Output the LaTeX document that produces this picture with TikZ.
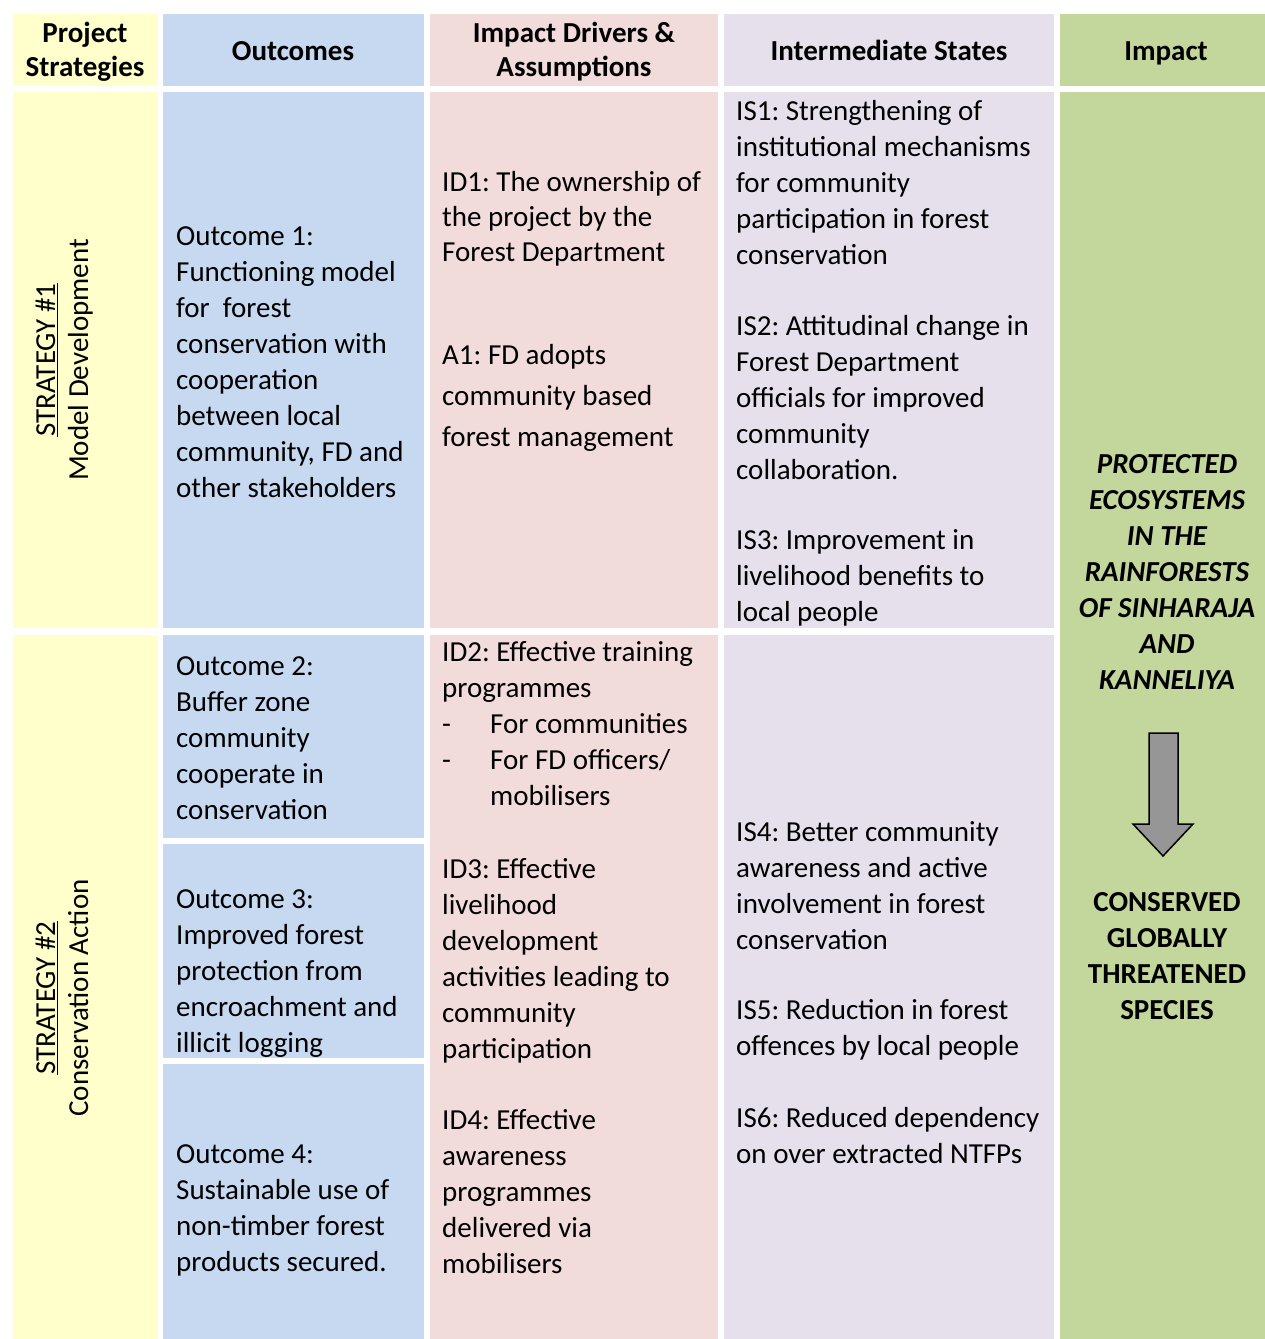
\documentclass[tikz,border=0pt]{standalone}
\usepackage{fontspec}
\setmainfont{Carlito}
\frenchspacing
\definecolor{cyel}{HTML}{FFFFCC}
\definecolor{cblu}{HTML}{C6D9F1}
\definecolor{cpnk}{HTML}{F2DCDB}
\definecolor{clav}{HTML}{E5E0EC}
\definecolor{cgrn}{HTML}{C3D69B}
\definecolor{carr}{HTML}{969696}
\newcommand\fl{\rule{0pt}{22pt}}
\newcommand\dsh{\makebox[48pt][l]{-}}
\begin{document}
\begin{tikzpicture}[x=1pt,y=-1pt,
  body/.style={anchor=north west,inner sep=0pt,align=left,font=\fontsize{29}{36}\selectfont},
  hdr/.style={anchor=north,inner sep=0pt,align=center,font=\bfseries\fontsize{29}{34}\selectfont},
  strat/.style={anchor=north,inner sep=0pt,align=center,rotate=90,font=\fontsize{29}{33}\selectfont},
  imp/.style={anchor=north,inner sep=0pt,align=center,font=\bfseries\fontsize{29}{36}\selectfont}]
\fill[white] (0,0) rectangle (1265,1339);
\useasboundingbox (0,0) rectangle (1265,1339);
% header row
\fill[cyel] (13,14) rectangle (158,86);
\fill[cblu] (163,14) rectangle (424,86);
\fill[cpnk] (430,14) rectangle (718,86);
\fill[clav] (724,14) rectangle (1054,86);
\fill[cgrn] (1060,14) rectangle (1265,86);
% column 1
\fill[cyel] (13,92) rectangle (158,628);
\fill[cyel] (13,635) rectangle (158,1339);
% column 2
\fill[cblu] (163,92) rectangle (424,628);
\fill[cblu] (163,635) rectangle (424,838);
\fill[cblu] (163,844) rectangle (424,1058);
\fill[cblu] (163,1064) rectangle (424,1339);
% column 3
\fill[cpnk] (430,92) rectangle (718,628);
\fill[cpnk] (430,635) rectangle (718,1339);
% column 4
\fill[clav] (724,92) rectangle (1054,628);
\fill[clav] (724,635) rectangle (1054,1339);
% column 5
\fill[cgrn] (1060,92) rectangle (1265,1339);

% headers
\node[hdr] (h1) at (85,20) {\fl Project\\Strategies};
\node[hdr] (h2) at (293,38) {\fl Outcomes};
\node[hdr] (h3) at (574,20) {\fl Impact Drivers \&\\Assumptions};
\node[hdr] (h4) at (889,38) {\fl Intermediate States};
\node[hdr] (h5) at (1166,38) {\fl Impact};

% strategies
\node[strat] (s1) at (33,360) {\fl\underline{STRATEGY \#1}\\Model Development};
\node[strat] (s2) at (33,998) {\fl\underline{STRATEGY \#2}\\Conservation Action};

% outcomes
\node[body] (o1) at (176,223) {\fl Outcome 1:\\Functioning model\\for\ \ forest\\conservation with\\cooperation\\between local\\community, FD and\\other stakeholders};
\node[body] (o2) at (176,653) {\fl Outcome 2:\\Buffer zone\\community\\cooperate in\\conservation};
\node[body] (o3) at (176,886) {\fl Outcome 3:\\Improved forest\\protection from\\encroachment and\\illicit logging};
\node[body] (o4) at (176,1141) {\fl Outcome 4:\\Sustainable use of\\non-timber forest\\products secured.};

% impact drivers
\node[body,font=\fontsize{29}{35}\selectfont] (id1) at (442,169) {\fl ID1: The ownership of\\the project by the\\Forest Department};
\node[body,font=\fontsize{29}{41}\selectfont] (a1) at (442,342) {\fl A1: FD adopts\\community based\\forest management};
\node[body] (id2) at (442,639) {\fl ID2: Effective training\\programmes\\\dsh For communities\\\dsh For FD officers/\\\hspace*{48pt}mobilisers};
\node[body] (id3) at (442,856) {\fl ID3: Effective\\livelihood\\development\\activities leading to\\community\\participation};
\node[body] (id4) at (442,1107) {\fl ID4: Effective\\awareness\\programmes\\delivered via\\mobilisers};

% intermediate states
\node[body] (is1) at (736,98) {\fl IS1: Strengthening of\\institutional mechanisms\\for community\\participation in forest\\conservation};
\node[body] (is2) at (736,313) {\fl IS2: Attitudinal change in\\Forest Department\\officials for improved\\community\\collaboration.};
\node[body] (is3) at (736,527) {\fl IS3: Improvement in\\livelihood benefits to\\local people};
\node[body] (is4) at (736,819) {\fl IS4: Better community\\awareness and active\\involvement in forest\\conservation};
\node[body] (is5) at (736,997) {\fl IS5: Reduction in forest\\offences by local people};
\node[body] (is6) at (736,1105) {\fl IS6: Reduced dependency\\on over extracted NTFPs};

% impact
\node[imp,font=\bfseries\itshape\fontsize{29}{36}\selectfont] (im1) at (1167,451) {\fl PROTECTED\\ECOSYSTEMS\\IN THE\\RAINFORESTS\\OF SINHARAJA\\AND\\KANNELIYA};
\node[imp] (im2) at (1167,889) {\fl CONSERVED\\GLOBALLY\\THREATENED\\SPECIES};

% arrow
\draw[fill=carr,line width=1.5pt,line join=miter]
  (1149,733) -- (1178,733) -- (1178,824) -- (1193,824) -- (1163,856)
  -- (1133,824) -- (1149,824) -- cycle;
\end{tikzpicture}
\end{document}
